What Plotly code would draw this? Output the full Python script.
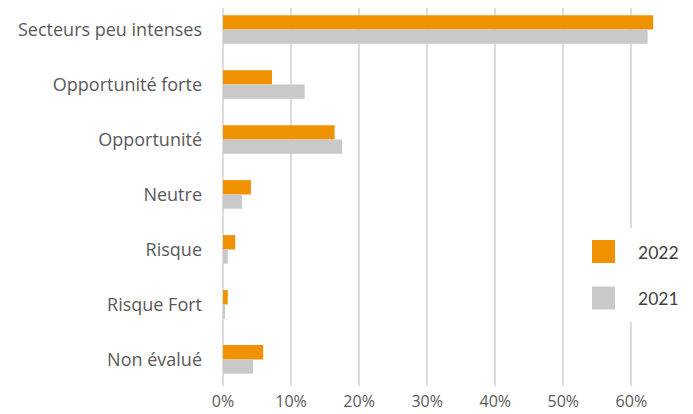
import plotly.graph_objects as go

# Data
categories = [
    "Secteurs peu intenses",
    "Opportunité forte",
    "Opportunité",
    "Neutre",
    "Risque",
    "Risque Fort",
    "Non évalué",
]
values_2022 = [0.632, 0.072, 0.164, 0.041, 0.018, 0.007, 0.059]
values_2021 = [0.624, 0.120, 0.175, 0.028, 0.007, 0.002, 0.044]
series_names = ["2022", "2021"]
series_colors = ["#F09100", "#C9C9C9"]
x_ticks = [0, 0.1, 0.2, 0.3, 0.4, 0.5, 0.6]

# page body has an 8px margin, so the figure is offset by (8, 8)
OFF = 8
W, H = 693 - OFF, 414 - OFF
L, R, T, B = 223 - OFF, 31, 0, 36 - OFF
X_MAX = 0.645
# category rows: first centre at y=29, step 53.83 px (window coords)
Y_RANGE = [(378 - 29) / 53.83, (OFF - 29) / 53.83]

fig = go.Figure()
for name, vals, col in zip(series_names, [values_2022, values_2021], series_colors):
    fig.add_trace(go.Bar(
        y=categories, x=vals, name=name, orientation="h",
        marker={"color": col, "line": {"width": 0}},
        showlegend=False,
    ))

# legend drawn by hand to get the large square swatches
pw, ph = W - L - R, H - T - B
def px_x(p):
    return (p - OFF - L) / pw
def px_y(p):
    return (H - B - (p - OFF)) / ph

shapes = [dict(type="rect", xref="paper", yref="paper",
               x0=px_x(585), x1=px_x(700), y0=px_y(322), y1=px_y(228),
               fillcolor="white", line={"width": 0}, layer="above")]
annotations = []
for i, (name, col) in enumerate(zip(series_names, series_colors)):
    top = 240 + i * 46.5
    shapes.append(dict(type="rect", xref="paper", yref="paper",
                       x0=px_x(592), x1=px_x(615), y0=px_y(top + 23), y1=px_y(top),
                       fillcolor=col, line={"width": 0}, layer="above"))
    annotations.append(dict(xref="paper", yref="paper", x=px_x(636), y=px_y(top + 12),
                            text=name, showarrow=False, xanchor="left", yanchor="middle",
                            font={"family": "Lato", "size": 17.5, "color": "#404040"}))

fig.update_layout(
    width=W, height=H,
    barmode="group", bargap=0.48, bargroupgap=0,
    plot_bgcolor="white", paper_bgcolor="white",
    margin={"l": L, "r": R, "t": T, "b": B, "autoexpand": False},
    font={"family": "Open Sans", "size": 18, "color": "#595959"},
    xaxis={
        "range": [0, X_MAX], "tickvals": x_ticks, "tickformat": ".0%",
        "showgrid": True, "gridcolor": "#DDDDDD", "gridwidth": 2,
        "zeroline": True, "zerolinecolor": "#DDDDDD", "zerolinewidth": 2,
        "showline": False, "ticks": "", "ticklabelstandoff": 4,
        "tickfont": {"size": 16},
    },
    yaxis={
        "range": Y_RANGE, "showgrid": False, "showline": False,
        "ticks": "", "ticklabelstandoff": 20,
    },
    shapes=shapes, annotations=annotations,
)

fig.write_html("out.html")
